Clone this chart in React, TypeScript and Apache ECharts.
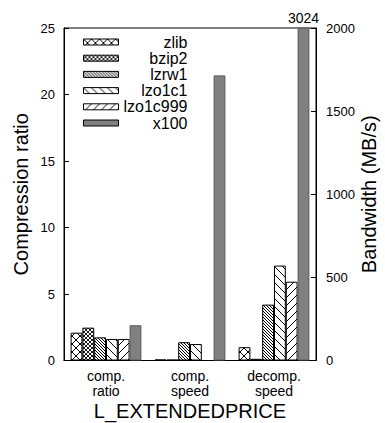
import React, { useEffect, useRef } from 'react';
import * as echarts from 'echarts';

const categories = ['comp.\nratio', 'comp.\nspeed', 'decomp.\nspeed'];
const methods = ['zlib', 'bzip2', 'lzrw1', 'lzo1c1', 'lzo1c999', 'x100'];
const ratioValues = [2.09, 2.47, 1.74, 1.62, 1.62, 2.65];
const compSpeedValues = [6, 5, 110, 99, 0, 1715];
const decompSpeedValues = [80, 10, 336, 571, 474, 3024];
const ratioAxis = [0, 25, 5];
const bandwidthAxis = [0, 2000, 500];

const FONT = '"Liberation Sans", Arial, Helvetica, sans-serif';

type Kind = 'cross' | 'fine' | 'back3' | 'back8' | 'fwd8';
const patternKinds: Kind[] = ['cross', 'fine', 'back3', 'back8', 'fwd8'];

function makePattern(kind: Kind): any {
  const s = kind === 'cross' ? 8 : kind === 'fine' ? 4 : kind === 'back3' ? 3 : 8;
  const c = document.createElement('canvas');
  c.width = s;
  c.height = s;
  const ctx = c.getContext('2d')!;
  ctx.fillStyle = '#fff';
  ctx.fillRect(0, 0, s, s);
  ctx.strokeStyle = '#000';
  ctx.lineWidth = kind === 'fine' ? 0.9 : 1;
  const back = kind === 'cross' || kind === 'fine' || kind === 'back3' || kind === 'back8';
  const fwd = kind === 'cross' || kind === 'fine' || kind === 'fwd8';
  ctx.beginPath();
  for (let k = -1; k <= 1; k++) {
    if (back) {
      ctx.moveTo(k * s, 0);
      ctx.lineTo(k * s + s, s);
    }
    if (fwd) {
      ctx.moveTo(k * s + s, 0);
      ctx.lineTo(k * s, s);
    }
  }
  ctx.stroke();
  return { image: c, repeat: 'repeat', imageWidth: s, imageHeight: s };
}

export default function App() {
  const ref = useRef<HTMLDivElement>(null);
  useEffect(() => {
    if (!ref.current) return;
    const chart = echarts.init(ref.current, undefined, { renderer: 'svg' });
    const styles = methods.map((m, i) =>
      i < 5
        ? { color: makePattern(patternKinds[i]), borderColor: '#000', borderWidth: 1 }
        : { color: '#808080', borderColor: '#5a5a5a', borderWidth: 1 }
    );
    const barCommon = { type: 'bar', barWidth: 11.8, barGap: '0%' };
    const ratioSeries = methods.map((m, i) => ({
      ...barCommon,
      name: m,
      xAxisIndex: 0,
      yAxisIndex: 0,
      itemStyle: styles[i],
      data: [ratioValues[i], '-', '-'],
    }));
    const bwSeries = methods.map((m, i) => ({
      ...barCommon,
      name: m,
      xAxisIndex: 1,
      yAxisIndex: 1,
      itemStyle: styles[i],
      data: [
        '-',
        compSpeedValues[i],
        decompSpeedValues[i] > bandwidthAxis[1]
          ? {
              value: decompSpeedValues[i],
              label: {
                show: true,
                position: 'top',
                distance: 3,
                color: '#000',
                fontSize: 14,
                fontFamily: FONT,
              },
            }
          : decompSpeedValues[i],
      ],
    }));
    chart.setOption({
      animation: false,
      textStyle: { fontFamily: FONT, color: '#000' },
      grid: {
        left: 64,
        right: 69,
        top: 28,
        bottom: 62.5,
        containLabel: false,
        outerBoundsMode: 'none',
        show: true,
        borderColor: '#000',
        borderWidth: 1,
        backgroundColor: 'transparent',
      },
      legend: {
        orient: 'vertical',
        left: 78,
        top: 29,
        icon: 'rect',
        itemWidth: 35,
        itemHeight: 6,
        itemGap: 0.2,
        data: methods,
        itemStyle: { borderColor: '#000', borderWidth: 1 },
        formatter: (name: string) => `{r|${name}}`,
        textStyle: {
          fontFamily: FONT,
          fontSize: 16,
          lineHeight: 16,
          color: '#000',
          rich: {
            r: { width: 64, align: 'right', fontSize: 16, lineHeight: 16, fontFamily: FONT, color: '#000' },
          },
        },
      },
      xAxis: [
        {
          type: 'category',
          data: categories,
          name: 'L_EXTENDEDPRICE',
          nameLocation: 'middle',
          nameGap: 40,
          nameMoveOverlap: false,
          nameTextStyle: { fontSize: 20, fontFamily: FONT, color: '#000' },
          axisLine: { lineStyle: { color: '#000', width: 1 } },
          axisTick: { show: false },
          axisLabel: { fontSize: 14, lineHeight: 15, margin: 8, color: '#000', fontFamily: FONT },
        },
        { type: 'category', data: categories, show: false },
      ],
      yAxis: [
        {
          type: 'value',
          min: ratioAxis[0],
          max: ratioAxis[1],
          interval: ratioAxis[2],
          name: 'Compression ratio',
          nameLocation: 'middle',
          nameGap: 33,
          nameRotate: 90,
          nameMoveOverlap: false,
          nameTextStyle: { fontSize: 20, fontFamily: FONT, color: '#000' },
          axisLine: { show: true, lineStyle: { color: '#000' } },
          axisTick: { show: true, inside: true, length: 5, lineStyle: { color: '#000' } },
          axisLabel: { fontSize: 13, margin: 9, color: '#000', fontFamily: FONT },
          splitLine: { show: false },
        },
        {
          type: 'value',
          position: 'right',
          min: bandwidthAxis[0],
          max: bandwidthAxis[1],
          interval: bandwidthAxis[2],
          name: 'Bandwidth (MB/s)',
          nameLocation: 'middle',
          nameGap: 43,
          nameRotate: 90,
          nameMoveOverlap: false,
          nameTextStyle: { fontSize: 20, fontFamily: FONT, color: '#000' },
          axisLine: { show: true, lineStyle: { color: '#000' } },
          axisTick: { show: true, inside: true, length: 5, lineStyle: { color: '#000' } },
          axisLabel: {
            fontSize: 13,
            margin: 10,
            color: '#000',
            fontFamily: FONT,
            formatter: (v: number) => String(v),
          },
          splitLine: { show: false },
        },
      ],
      series: [...ratioSeries, ...bwSeries],
    });
    return () => chart.dispose();
  }, []);
  return (
    <div
      ref={ref}
      style={{ position: 'absolute', left: 0, top: 0, width: 385, height: 423 }}
    />
  );
}
